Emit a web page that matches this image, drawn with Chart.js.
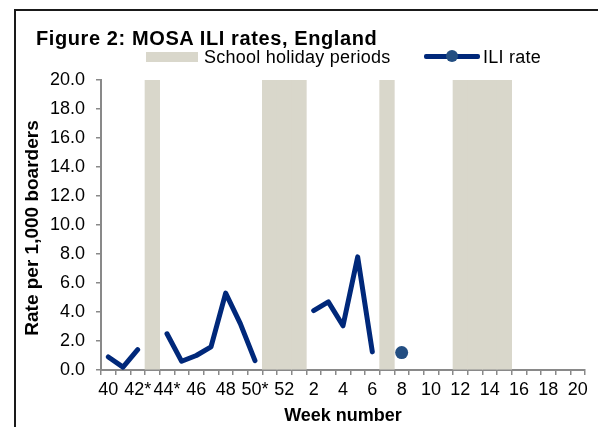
<!DOCTYPE html>
<html>
<head>
<meta charset="utf-8">
<script src="https://cdn.jsdelivr.net/npm/chart.js@4.4.1/dist/chart.umd.min.js"></script>
<style>
  html, body { margin: 0; padding: 0; background: #fff; }
  body { width: 598px; height: 427px; position: relative; overflow: hidden;
         font-family: "Liberation Sans", Arial, sans-serif; color: #000; }
  #wrap { position: absolute; left: 0; top: 0; width: 598px; height: 427px; }
  #frame { position: absolute; left: 14px; top: 9px; width: 640px; height: 480px;
           border: 2px solid #1a1a1a; box-sizing: border-box; }
  #title { position: absolute; left: 36px; top: 28px; font-size: 20px; line-height: 20px;
           font-weight: bold; letter-spacing: 0.6px; white-space: nowrap; }
  .legtext { position: absolute; top: 48px; font-size: 18px; line-height: 18px;
             letter-spacing: 0.25px; white-space: nowrap; }
  #holbox { position: absolute; left: 146px; top: 52px; width: 52px; height: 10px;
            background: #D9D7CB; }
  #ililine { position: absolute; left: 424px; top: 54px; width: 56px; height: 5px;
             background: #00287A; border-radius: 2px; }
  #ilidot { position: absolute; left: 446px; top: 50px; width: 12px; height: 12px;
            border-radius: 50%; background: #234E82; }
  #ytitle { position: absolute; left: 32px; top: 228px; transform: translate(-50%, -50%) rotate(-90deg);
            font-size: 19px; font-weight: bold; white-space: nowrap; }
</style>
</head>
<body>
<div id="wrap"><canvas id="chart"></canvas></div>
<div id="frame"></div>
<div id="title">Figure 2: MOSA ILI rates, England</div>
<div id="holbox"></div>
<div class="legtext" style="left:204px">School holiday periods</div>
<div id="ililine"></div>
<div id="ilidot"></div>
<div class="legtext" style="left:483px">ILI rate</div>
<div id="ytitle">Rate per 1,000 boarders</div>

<script>
// week numbers, school year 40 -> 20
let weeks = ["40", "41", "42*", "43", "44*", "45", "46", "47", "48", "49", "50*", "51", "52",
             "1", "2", "3", "4", "5", "6", "7", "8", "9", "10", "11", "12", "13", "14", "15",
             "16", "17", "18", "19", "20"];

// ILI rate per 1,000 boarders (null = no report / holiday)
let iliRate = [0.9, 0.2, 1.4, null, 2.5, 0.6, 1.0, 1.6, 5.3, 3.2, 0.65, null, null,
               null, 4.1, 4.7, 3.05, 7.8, 1.25, null, 1.2, null, null, null, null, null, null, null,
               null, null, null, null, null];

// school holidays shown as full-height bands
let holiday = [null, null, null, 20, null, null, null, null, null, null, null, 20, 20,
               20, null, null, null, null, null, 20, null, null, null, null, 20, 20, 20, 20,
               null, null, null, null, null];

let yTicks = [0, 2, 4, 6, 8, 10, 12, 14, 16, 18, 20];

Chart.defaults.font.family = '"Liberation Sans", Arial, sans-serif';
Chart.defaults.color = "#000";

// a point is drawn only when it has no neighbours to join to
function isolated(ctx) {
    let i = ctx.dataIndex;
    let prev = i > 0 ? iliRate[i - 1] : null;
    let next = i < iliRate.length - 1 ? iliRate[i + 1] : null;
    return iliRate[i] !== null && prev === null && next === null;
}

new Chart(document.getElementById("chart"), {
    type: "bar",
    data: {
        labels: weeks,
        datasets: [{
            type: "line",
            label: "ILI rate",
            data: iliRate,
            borderColor: "#00287A",
            borderWidth: 5,
            borderCapStyle: "round",
            borderJoinStyle: "round",
            spanGaps: false,
            tension: 0,
            pointRadius: ctx => isolated(ctx) ? 6.5 : 0,
            pointBackgroundColor: "#234E82",
            pointBorderWidth: 0,
            order: 1
        }, {
            label: "School holiday periods",
            data: holiday,
            backgroundColor: "#D9D7CB",
            barPercentage: 1,
            categoryPercentage: 1,
            borderWidth: 0,
            order: 2
        }]
    },
    options: {
        responsive: true,
        maintainAspectRatio: false,
        animation: false,
        events: [],
        layout: { padding: { left: 21, top: 80, right: 13, bottom: 0 } },
        plugins: {
            legend: { display: false },
            title: { display: false },
            tooltip: { enabled: false }
        },
        scales: {
            x: {
                offset: true,
                grid: { display: true, offset: true, drawOnChartArea: false, drawTicks: true,
                        tickLength: 5, color: "#898989", lineWidth: 1.5 },
                border: { display: true, color: "#898989", width: 2 },
                ticks: {
                    autoSkip: false, maxRotation: 0, minRotation: 0, padding: 4,
                    font: { size: 18 },
                    callback: (v, i) => i % 2 === 0 ? weeks[i] : ""
                },
                title: { display: true, text: "Week number", font: { size: 18, weight: "bold" }, padding: 0 },
                afterFit: s => { s.height = 57; }
            },
            y: {
                min: 0,
                max: 20,
                afterBuildTicks: s => { s.ticks = yTicks.map(v => ({ value: v })); },
                grid: { display: true, drawOnChartArea: false, drawTicks: true,
                        tickLength: 5, color: "#898989", lineWidth: 1.5 },
                border: { display: true, color: "#898989", width: 2 },
                ticks: { padding: 11, font: { size: 18 }, callback: v => v.toFixed(1) },
                afterFit: s => { s.width = 80; }
            }
        }
    }
});
</script>
</body>
</html>
